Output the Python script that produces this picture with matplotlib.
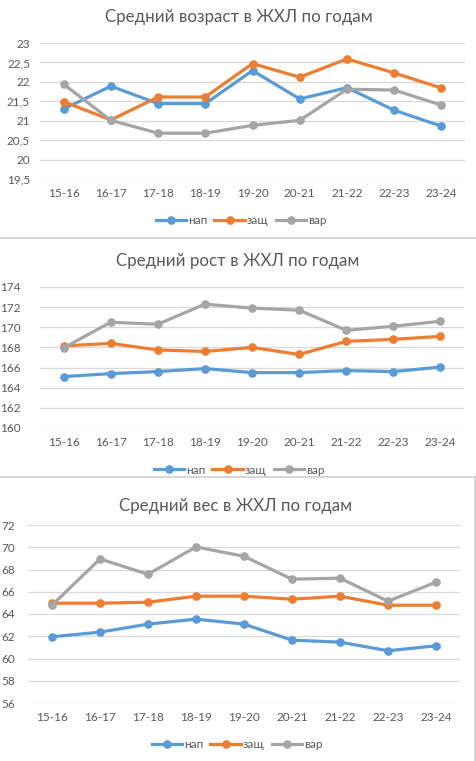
import numpy as np
import matplotlib.pyplot as plt
from matplotlib.lines import Line2D

plt.rcParams['font.family'] = ['Lato', 'DejaVu Sans']

W, H = 476, 761
DPI = 100

seasons = ["15-16", "16-17", "17-18", "18-19", "19-20", "20-21", "21-22", "22-23", "23-24"]
series_names = ["нап", "защ", "вар"]

# средний возраст
age_nap = [21.30, 21.89, 21.44, 21.44, 22.29, 21.56, 21.85, 21.27, 20.86]
age_zash = [21.49, 21.02, 21.61, 21.61, 22.47, 22.12, 22.59, 22.23, 21.84]
age_var = [21.94, 21.01, 20.68, 20.68, 20.88, 21.01, 21.81, 21.79, 21.40]

# средний рост
height_nap = [165.1, 165.4, 165.6, 165.9, 165.5, 165.5, 165.7, 165.6, 166.05]
height_zash = [168.15, 168.4, 167.75, 167.6, 168.0, 167.3, 168.6, 168.8, 169.1]
height_var = [167.95, 170.5, 170.3, 172.3, 171.9, 171.7, 169.7, 170.1, 170.6]

# средний вес
weight_nap = [61.95, 62.37, 63.09, 63.54, 63.09, 61.65, 61.47, 60.70, 61.14]
weight_zash = [64.97, 64.97, 65.06, 65.60, 65.60, 65.33, 65.60, 64.79, 64.79]
weight_var = [64.79, 68.95, 67.57, 70.03, 69.19, 67.13, 67.22, 65.15, 66.86]

colors = ["#5B9BD5", "#ED7D31", "#A5A5A5"]
text_col = "#595959"
grid_col = "#D9D9D9"

fig = plt.figure(figsize=(W / DPI, H / DPI), dpi=DPI)

PT = 72.0 / DPI  # pixels -> points


def fmt(v):
    return ("%g" % v).replace(".", ",")


def make_chart(box, title, title_xy, legend_xy, data, ylim, step, ypad):
    left, top, right, bottom = box
    ax = fig.add_axes([left / W, 1 - bottom / H, (right - left) / W, (bottom - top) / H])
    x = np.arange(len(seasons))
    for vals, c in zip(data, colors):
        ax.plot(x, vals, color=c, lw=2.3, marker="o", ms=5.2, clip_on=False,
                solid_capstyle="round")
    ax.set_xlim(-0.5, len(seasons) - 0.5)
    ax.set_ylim(*ylim)
    ticks = np.arange(ylim[0], ylim[1] + step / 2, step)
    ax.set_yticks(ticks)
    ax.set_yticklabels([fmt(t) for t in ticks])
    ax.set_xticks(x)
    ax.set_xticklabels(seasons)
    ax.tick_params(axis="both", length=0, colors=text_col, labelsize=8.5)
    ax.tick_params(axis="y", pad=ypad * PT)
    ax.tick_params(axis="x", pad=9 * PT)
    for s in ax.spines.values():
        s.set_visible(False)
    ax.grid(axis="y", color=grid_col, lw=0.9)
    ax.set_axisbelow(True)
    fig.text(title_xy[0] / W, 1 - title_xy[1] / H, title, ha="center", va="center",
             fontsize=12.2, color=text_col)
    handles = [Line2D([], [], color=c, lw=2.3, marker="o", ms=5.2) for c in colors]
    fig.legend(handles, series_names, loc="center",
               bbox_to_anchor=(legend_xy[0] / W, 1 - legend_xy[1] / H),
               ncol=3, frameon=False, fontsize=8.5, labelcolor=text_col,
               handlelength=2.6, handletextpad=0.15, columnspacing=0.6, numpoints=1)
    return ax


make_chart((40, 43, 465, 179), "Средний возраст в ЖХЛ по годам", (239, 17), (241, 221),
           [age_nap, age_zash, age_var], (19.5, 23), 0.5, 10)
make_chart((40, 287, 464, 428), "Средний рост в ЖХЛ по годам", (238, 261), (239, 470),
           [height_nap, height_zash, height_var], (160, 174), 2, 19)
make_chart((28, 525, 460, 703), "Средний вес в ЖХЛ по годам", (236, 506), (237, 745),
           [weight_nap, weight_zash, weight_var], (56, 72), 2, 13)

# separators between the pasted charts
sep = "#D0D0D0"
fig.add_artist(Line2D([0, 1], [1 - 238 / H, 1 - 238 / H], color=sep, lw=1.2))
fig.add_artist(Line2D([0, 475 / W], [1 - 477 / H, 1 - 477 / H], color=sep, lw=1.2))
fig.add_artist(Line2D([475 / W, 475 / W], [1 - 477 / H, 0], color=sep, lw=1.2))

fig.savefig("out.png", dpi=DPI)
